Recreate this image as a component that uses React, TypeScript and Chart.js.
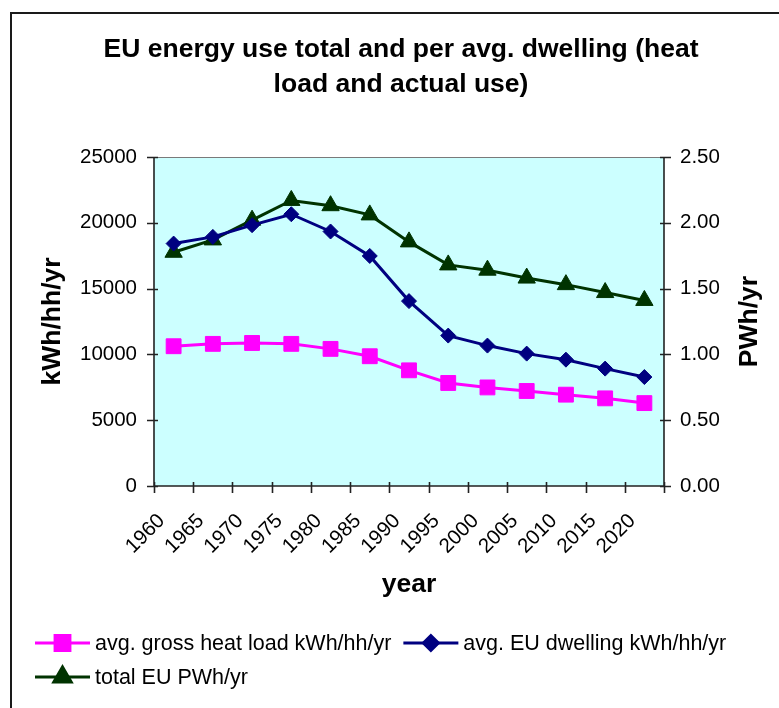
import { useEffect, useRef } from "react";
import { Chart, registerables } from "chart.js";
import { drawPoint } from "chart.js/helpers";

Chart.register(...registerables);

// Category labels (5-year steps)
const years = ["1960", "1965", "1970", "1975", "1980", "1985", "1990", "1995", "2000", "2005", "2010", "2015", "2020"];

// avg. gross heat load, kWh per household per year (left axis)
const heatLoad = [10620, 10800, 10870, 10800, 10420, 9860, 8790, 7830, 7490, 7220, 6940, 6660, 6300];

// avg. EU dwelling actual use, kWh per household per year (left axis)
const dwellingUse = [18420, 18930, 19820, 20650, 19340, 17480, 14050, 11430, 10670, 10060, 9600, 8920, 8280];

// total EU use, PWh per year (right axis)
const totalEU = [1.776, 1.87, 2.02, 2.17, 2.13, 2.06, 1.855, 1.68, 1.64, 1.58, 1.53, 1.47, 1.41];

const titleLines = ["EU energy use total and per avg. dwelling (heat", "load and actual use)"];
const leftAxisTitle = "kWh/hh/yr";
const rightAxisTitle = "PWh/yr";
const xAxisTitle = "year";

const FONT = "'Liberation Sans', Arial, Helvetica, sans-serif";
const PINK = "#FF00FF";
const NAVY = "#000080";
const GREEN = "#003300";

const framePlugin = {
  id: "excelFrame",
  beforeDraw(chart: any) {
    const { ctx, chartArea: a } = chart;
    ctx.save();
    ctx.fillStyle = "#ffffff";
    ctx.fillRect(0, 0, chart.width, chart.height);
    // outer chart border
    ctx.strokeStyle = "#1a1a1a";
    ctx.lineWidth = 2;
    ctx.strokeRect(11, 13, chart.width + 20, chart.height + 20);
    // plot area fill
    ctx.fillStyle = "#CCFFFF";
    ctx.fillRect(a.left, a.top, a.right - a.left, a.bottom - a.top);
    ctx.restore();
  },
  beforeDatasetsDraw(chart: any) {
    const { ctx, chartArea: a, scales } = chart;
    const inner = 4;
    const outer = 7;
    ctx.save();
    // top border of plot area
    ctx.strokeStyle = "#7a7a7a";
    ctx.lineWidth = 1;
    ctx.beginPath();
    ctx.moveTo(a.left, a.top + 0.5);
    ctx.lineTo(a.right, a.top + 0.5);
    ctx.stroke();

    ctx.strokeStyle = "#222222";
    ctx.lineWidth = 1.6;
    ctx.beginPath();
    // axis lines
    ctx.moveTo(a.left, a.top);
    ctx.lineTo(a.left, a.bottom);
    ctx.moveTo(a.right, a.top);
    ctx.lineTo(a.right, a.bottom);
    ctx.moveTo(a.left, a.bottom);
    ctx.lineTo(a.right, a.bottom);
    // left axis tick marks
    for (const t of scales.y.ticks) {
      const py = Math.round(scales.y.getPixelForValue(t.value)) + 0.5;
      ctx.moveTo(a.left - outer, py);
      ctx.lineTo(a.left + inner, py);
    }
    // right axis tick marks
    for (const t of scales.y2.ticks) {
      const py = Math.round(scales.y2.getPixelForValue(t.value)) + 0.5;
      ctx.moveTo(a.right - inner, py);
      ctx.lineTo(a.right + outer, py);
    }
    // category boundary tick marks
    for (let i = 0; i <= years.length; i++) {
      const px = Math.round(scales.x.getPixelForValue(i - 0.5)) + 0.5;
      ctx.moveTo(px, a.bottom - inner);
      ctx.lineTo(px, a.bottom + outer);
    }
    ctx.stroke();
    ctx.restore();
  },
  afterDraw(chart: any) {
    const { ctx, chartArea: a } = chart;
    ctx.save();
    ctx.fillStyle = "#000000";
    // chart title
    ctx.font = `bold 26.5px ${FONT}`;
    ctx.textAlign = "center";
    ctx.textBaseline = "middle";
    ctx.fillText(titleLines[0], 401, 50);
    ctx.fillText(titleLines[1], 401, 85);

    // axis titles
    ctx.fillText(xAxisTitle, (a.left + a.right) / 2, 585);
    const midY = (a.top + a.bottom) / 2;
    ctx.save();
    ctx.translate(53, midY);
    ctx.rotate(-Math.PI / 2);
    ctx.fillText(leftAxisTitle, 0, 0);
    ctx.restore();
    ctx.save();
    ctx.translate(750, midY);
    ctx.rotate(-Math.PI / 2);
    ctx.fillText(rightAxisTitle, 0, 0);
    ctx.restore();

    // legend: line + marker, then label
    ctx.font = `21.5px ${FONT}`;
    ctx.textAlign = "left";
    const lineLen = 55;
    const rows = [[0, 1], [2]];
    const rowY = [643, 677];
    rows.forEach((row, r) => {
      let x = 35;
      for (const di of row) {
        const ds = chart.data.datasets[di];
        const y = rowY[r];
        ctx.strokeStyle = ds.borderColor;
        ctx.lineWidth = 3;
        ctx.beginPath();
        ctx.moveTo(x, y);
        ctx.lineTo(x + lineLen, y);
        ctx.stroke();
        ctx.fillStyle = ds.pointBackgroundColor;
        ctx.strokeStyle = ds.pointBorderColor;
        drawPoint(ctx, { pointStyle: ds.pointStyle, radius: ds.pointRadius, borderWidth: 1, rotation: 0 }, x + lineLen / 2, y);
        ctx.fillStyle = "#000000";
        ctx.fillText(ds.label, x + lineLen + 5, y + 1);
        x += lineLen + 5 + ctx.measureText(ds.label).width + 12;
      }
    });
    ctx.restore();
  },
};

export default function App() {
  const canvasRef = useRef<HTMLCanvasElement | null>(null);

  useEffect(() => {
    document.body.style.margin = "0";
    const canvas = canvasRef.current;
    if (!canvas) return;
    const tickFont = { family: FONT, size: 20.5 };
    const chart = new Chart(canvas, {
      type: "line",
      data: {
        labels: years,
        datasets: [
          {
            label: "avg. gross heat load kWh/hh/yr",
            data: heatLoad,
            yAxisID: "y",
            borderColor: PINK,
            backgroundColor: PINK,
            pointBackgroundColor: PINK,
            pointBorderColor: PINK,
            pointStyle: "rect",
            pointRadius: 10.5,
            pointBorderWidth: 1,
            borderWidth: 3,
            tension: 0,
          },
          {
            label: "avg. EU dwelling kWh/hh/yr",
            data: dwellingUse,
            yAxisID: "y",
            borderColor: NAVY,
            backgroundColor: NAVY,
            pointBackgroundColor: NAVY,
            pointBorderColor: NAVY,
            pointStyle: "rectRot",
            pointRadius: 7.5,
            pointBorderWidth: 1,
            borderWidth: 3,
            tension: 0,
          },
          {
            label: "total EU PWh/yr",
            data: totalEU,
            yAxisID: "y2",
            borderColor: GREEN,
            backgroundColor: GREEN,
            pointBackgroundColor: GREEN,
            pointBorderColor: GREEN,
            pointStyle: "triangle",
            pointRadius: 10,
            pointBorderWidth: 1,
            borderWidth: 3,
            tension: 0,
          },
        ],
      },
      options: {
        animation: false,
        responsive: false,
        devicePixelRatio: 1,
        layout: { padding: { top: 157, left: 0, right: 0, bottom: 0 } },
        plugins: {
          legend: { display: false },
          title: { display: false },
          tooltip: { enabled: false },
        },
        scales: {
          x: {
            type: "category",
            offset: true,
            grid: { display: false, drawTicks: false },
            border: { display: false },
            ticks: {
              autoSkip: false,
              minRotation: 45,
              maxRotation: 45,
              padding: 23,
              labelOffset: -12,
              color: "#000000",
              font: tickFont,
            },
            afterFit: (s: any) => {
              s.height = 222;
            },
          },
          y: {
            type: "linear",
            position: "left",
            min: 0,
            max: 25000,
            grid: { display: false, drawTicks: false },
            border: { display: false },
            ticks: {
              stepSize: 5000,
              padding: 17,
              color: "#000000",
              font: tickFont,
              callback: (v: any) => String(v),
            },
            afterFit: (s: any) => {
              s.width = 154;
            },
          },
          y2: {
            type: "linear",
            position: "right",
            min: 0,
            max: 2.5,
            grid: { display: false, drawTicks: false },
            border: { display: false },
            ticks: {
              stepSize: 0.5,
              padding: 16,
              color: "#000000",
              font: tickFont,
              callback: (v: any) => Number(v).toFixed(2),
            },
            afterFit: (s: any) => {
              s.width = 115;
            },
          },
        },
      },
      plugins: [framePlugin],
    });
    return () => chart.destroy();
  }, []);

  return (
    <div style={{ width: 779, height: 708 }}>
      <canvas ref={canvasRef} width={779} height={708} style={{ display: "block" }} />
    </div>
  );
}
